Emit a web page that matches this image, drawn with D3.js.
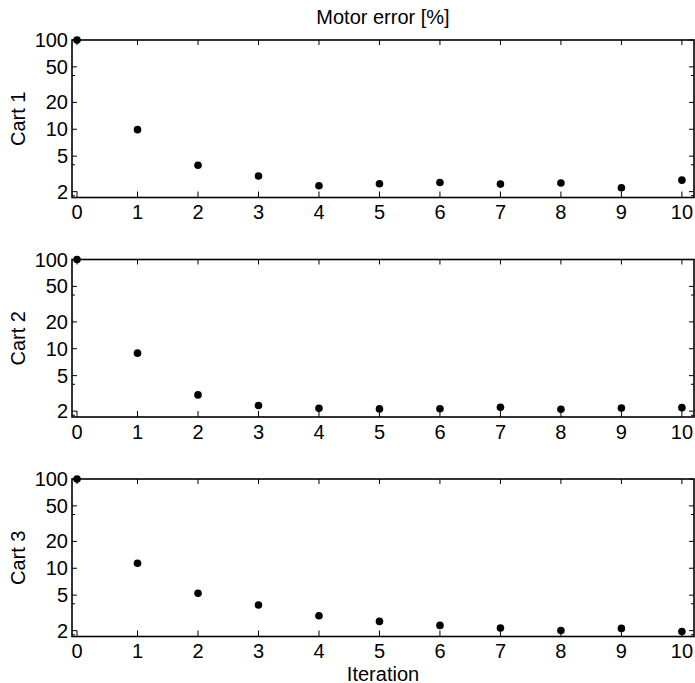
<!DOCTYPE html>
<html>
<head>
<meta charset="utf-8">
<script src="https://cdn.jsdelivr.net/npm/d3@7"></script>
<style>
  html, body { margin: 0; padding: 0; background: #fff; }
  svg { display: block; }
  text { font-family: "Liberation Sans", Arial, Helvetica, sans-serif; fill: #000; }
</style>
</head>
<body>
<script>
// ---------- data ----------
const iterations = [0, 1, 2, 3, 4, 5, 6, 7, 8, 9, 10];
const panelLabels = ["Cart 1", "Cart 2", "Cart 3"];
const cart1 = [100, 9.9, 3.95, 2.99, 2.33, 2.45, 2.53, 2.43, 2.50, 2.21, 2.69];
const cart2 = [100, 8.93, 3.04, 2.31, 2.15, 2.12, 2.13, 2.21, 2.10, 2.17, 2.19];
const cart3 = [100, 11.4, 5.24, 3.87, 2.94, 2.54, 2.29, 2.14, 2.01, 2.12, 1.96];
const series = [cart1, cart2, cart3];
const yTickValues = [2, 5, 10, 20, 50, 100];
const yMinorTicks = [1.8, 4, 40];
const xTickValues = [0, 1, 2, 3, 4, 5, 6, 7, 8, 9, 10];
const titleText = "Motor error [%]";
const xLabelText = "Iteration";

// ---------- layout ----------
const W = 695, H = 683;
const left = 72, right = 694;
const panelTops = [40, 259.5, 479];
const panelH = 157.5;
const fontSize = 20;

const svg = d3.select("body").append("svg").attr("width", W).attr("height", H);

const x = d3.scaleLinear().domain([-0.083, 10.2]).range([left, right]);

series.forEach((vals, i) => {
  const top = panelTops[i], bottom = top + panelH;
  const y = d3.scaleLog().domain([1.72, 100]).range([bottom, top]);
  const g = svg.append("g");

  // ticks (inward)
  const tk = g.append("g").attr("stroke", "#000").attr("stroke-width", 1);
  xTickValues.forEach(v => {
    tk.append("line").attr("x1", x(v)).attr("x2", x(v)).attr("y1", bottom).attr("y2", bottom - 6);
    tk.append("line").attr("x1", x(v)).attr("x2", x(v)).attr("y1", top).attr("y2", top + 5);
  });
  yTickValues.forEach(v => {
    tk.append("line").attr("x1", left).attr("x2", left + 5).attr("y1", y(v)).attr("y2", y(v));
    tk.append("line").attr("x1", right).attr("x2", right - 5).attr("y1", y(v)).attr("y2", y(v));
  });
  yMinorTicks.forEach(v => {
    tk.append("line").attr("x1", left).attr("x2", left + 3).attr("y1", y(v)).attr("y2", y(v));
    tk.append("line").attr("x1", right).attr("x2", right - 3).attr("y1", y(v)).attr("y2", y(v));
  });

  // box
  g.append("rect")
    .attr("x", left).attr("y", top)
    .attr("width", right - left).attr("height", panelH)
    .attr("fill", "none").attr("stroke", "#000").attr("stroke-width", 1.6);

  // tick labels
  g.selectAll("text.xt").data(xTickValues).join("text")
    .attr("class", "xt")
    .attr("x", d => x(d)).attr("y", bottom + 21.5)
    .attr("text-anchor", "middle").attr("font-size", fontSize)
    .text(d => d);
  g.selectAll("text.yt").data(yTickValues).join("text")
    .attr("class", "yt")
    .attr("x", left - 4).attr("y", d => y(d) + 7)
    .attr("text-anchor", "end").attr("font-size", fontSize)
    .text(d => d);

  // y label
  g.append("text")
    .attr("transform", `translate(25,${(top + bottom) / 2}) rotate(-90)`)
    .attr("text-anchor", "middle").attr("font-size", fontSize)
    .text(panelLabels[i]);

  // points
  g.selectAll("circle").data(iterations).join("circle")
    .attr("cx", d => x(d)).attr("cy", (d, k) => y(vals[k]))
    .attr("r", 3.8).attr("fill", "#000");
});

// title and x label
svg.append("text")
  .attr("x", (left + right) / 2).attr("y", 24)
  .attr("text-anchor", "middle").attr("font-size", fontSize)
  .text(titleText);
svg.append("text")
  .attr("x", (left + right) / 2).attr("y", panelTops[2] + panelH + 44)
  .attr("text-anchor", "middle").attr("font-size", fontSize)
  .text(xLabelText);
</script>
</body>
</html>
